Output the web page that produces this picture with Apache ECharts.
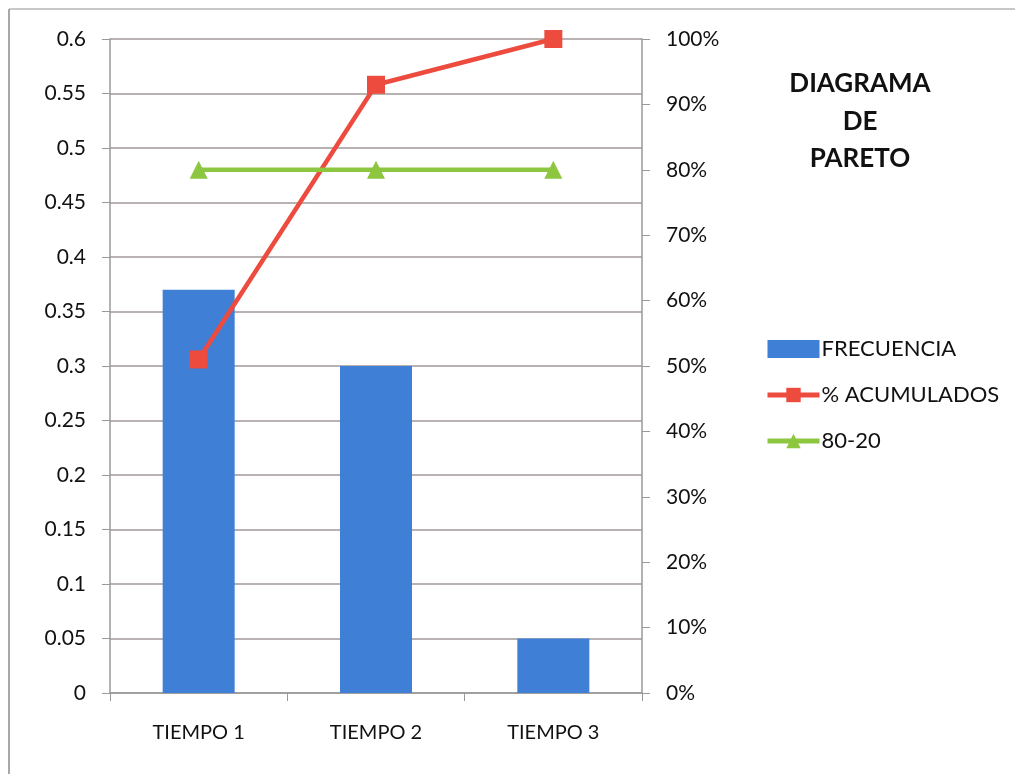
<!DOCTYPE html>
<html>
<head>
<meta charset="utf-8">
<script src="https://cdn.jsdelivr.net/npm/echarts@6/dist/echarts.min.js"></script>
<style>html,body{margin:0;padding:0;background:#fff;}#c{width:1015px;height:774px;}</style>
</head>
<body>
<div id="c"></div>
<script>
var categories = ['TIEMPO 1', 'TIEMPO 2', 'TIEMPO 3'];
var frecuencia = [0.37, 0.30, 0.05];
var acumulados = [51, 93, 100];
var linea8020 = [80, 80, 80];
var leftTicks = { min: 0, max: 0.6, interval: 0.05 };
var rightTicks = { min: 0, max: 100, interval: 10 };

var chart = echarts.init(document.getElementById('c'));
var font = 'Lato, "Open Sans", sans-serif';
chart.setOption({
  animation: false,
  backgroundColor: '#fff',
  textStyle: { fontFamily: font },
  title: {
    text: 'DIAGRAMA\nDE\nPARETO',
    left: 855, top: 60, textAlign: 'center',
    textStyle: { fontSize: 26, fontWeight: 'bold', color: '#111', lineHeight: 37.5, fontFamily: font }
  },
  graphic: [
    { type: 'line', shape: { x1: 9, y1: 9, x2: 1015, y2: 9 }, style: { stroke: '#c8c8c8', lineWidth: 2 } },
    { type: 'line', shape: { x1: 9, y1: 9, x2: 9, y2: 774 }, style: { stroke: '#a8a8a8', lineWidth: 2 } }
  ],
  legend: {
    orient: 'vertical', left: 765, top: 338, itemGap: 24, padding: 0,
    itemWidth: 52, itemHeight: 18,
    textStyle: { fontSize: 22, color: '#111', fontFamily: font, padding: [0, 0, 0, -3] },
    data: [
      { name: 'FRECUENCIA', icon: 'rect', itemStyle: { color: '#3F7FD6' } },
      { name: '% ACUMULADOS', lineStyle: { width: 5, color: '#EE4B3F' } },
      { name: '80-20', lineStyle: { width: 5, color: '#8DC63F' } }
    ]
  },
  grid: { left: 110, right: 373, top: 39, bottom: 81 },
  xAxis: {
    type: 'category', data: categories,
    axisLine: { lineStyle: { color: '#999', width: 1.5 } },
    axisTick: { show: true, length: 8, alignWithLabel: false, lineStyle: { color: '#999' } },
    axisLabel: { fontSize: 20, color: '#111', margin: 30, fontFamily: font }
  },
  yAxis: [
    {
      type: 'value', min: leftTicks.min, max: leftTicks.max, interval: leftTicks.interval,
      axisLine: { show: true, lineStyle: { color: '#999', width: 1.5 } },
      axisTick: { show: true, length: 8, lineStyle: { color: '#999' } },
      splitLine: { lineStyle: { color: '#a09898', width: 1.5 } },
      axisLabel: { fontSize: 21, color: '#111', margin: 24, fontFamily: font,
        formatter: function (v) { return String(Math.round(v * 100) / 100); } }
    },
    {
      type: 'value', min: rightTicks.min, max: rightTicks.max, interval: rightTicks.interval,
      position: 'right',
      axisLine: { show: true, lineStyle: { color: '#999', width: 1.5 } },
      axisTick: { show: true, length: 8, lineStyle: { color: '#999' } },
      splitLine: { show: false },
      axisLabel: { fontSize: 21, color: '#111', margin: 24, fontFamily: font, formatter: '{value}%' }
    }
  ],
  series: [
    {
      name: 'FRECUENCIA', type: 'bar', data: frecuencia, yAxisIndex: 0,
      barWidth: 72, itemStyle: { color: '#3F7FD6' }
    },
    {
      name: '% ACUMULADOS', type: 'line', data: acumulados, yAxisIndex: 1,
      symbol: 'rect', symbolSize: 18,
      lineStyle: { color: '#EE4B3F', width: 4.5 },
      itemStyle: { color: '#EE4B3F' }
    },
    {
      name: '80-20', type: 'line', data: linea8020, yAxisIndex: 1,
      symbol: 'triangle', symbolSize: 18,
      lineStyle: { color: '#8DC63F', width: 4.5 },
      itemStyle: { color: '#8DC63F' }
    }
  ]
});
</script>
</body>
</html>
